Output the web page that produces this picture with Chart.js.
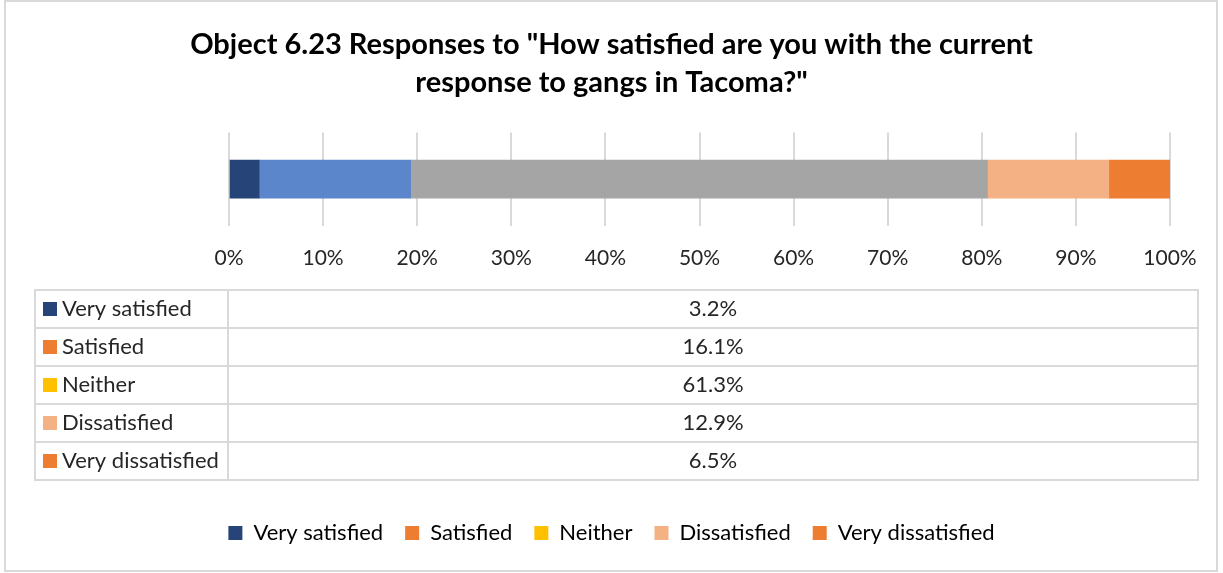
<!DOCTYPE html>
<html>
<head>
<meta charset="utf-8">
<script src="https://cdn.jsdelivr.net/npm/chart.js@4/dist/chart.umd.min.js"></script>
<style>
  html, body { margin: 0; padding: 0; background: #fff; }
  #wrap { width: 1223px; height: 573px; }
</style>
</head>
<body>
<div id="wrap"><canvas id="myChart" width="1223" height="573"></canvas></div>
<script>
// Chart data
const categories = ["Responses"];
const seriesNames = ["Very satisfied", "Satisfied", "Neither", "Dissatisfied", "Very dissatisfied"];
const seriesValues = [3.2, 16.1, 61.3, 12.9, 6.5];
const tickValues = [0, 10, 20, 30, 40, 50, 60, 70, 80, 90, 100];
// bar colours and the (different) legend key colours, as in the original
const barColors = ["#264478", "#5B86CC", "#A5A5A5", "#F4B183", "#ED7D31"];
const legendColors = ["#264478", "#ED7D31", "#FFC000", "#F4B183", "#ED7D31"];

const FONT = 'Lato, "Noto Sans", sans-serif';
const TEXT = "#262626";
const LINE = "#D9D9D9";

// data table + outer frame, drawn under the axis labels
const tablePlugin = {
  id: "dataTable",
  afterDraw(chart) {
    const ctx = chart.ctx;
    const area = chart.chartArea;
    const left = 35, right = 1198, split = area.left - 1;
    const top = area.bottom + 64, rowH = 38;
    ctx.save();
    ctx.strokeStyle = LINE;
    ctx.lineWidth = 2;
    // outer frame of the chart object
    ctx.strokeRect(5, 1, 1212, 570);
    // table grid
    ctx.strokeRect(left, top, right - left, rowH * seriesNames.length);
    for (let i = 1; i < seriesNames.length; i++) {
      ctx.beginPath();
      ctx.moveTo(left, top + rowH * i);
      ctx.lineTo(right, top + rowH * i);
      ctx.stroke();
    }
    ctx.beginPath();
    ctx.moveTo(split, top);
    ctx.lineTo(split, top + rowH * seriesNames.length);
    ctx.stroke();
    // cells
    ctx.font = "22px " + FONT;
    ctx.textBaseline = "middle";
    seriesNames.forEach((name, i) => {
      const cy = top + rowH * i + rowH / 2;
      ctx.fillStyle = legendColors[i];
      ctx.fillRect(43, cy - 7, 14, 14);
      ctx.fillStyle = TEXT;
      ctx.textAlign = "left";
      ctx.fillText(name, 62, cy);
      ctx.textAlign = "center";
      ctx.fillText(seriesValues[i].toFixed(1) + "%", (split + right) / 2, cy);
    });
    ctx.restore();
  }
};

const data = {
  labels: categories,
  datasets: seriesNames.map((name, i) => ({
    label: name,
    data: [seriesValues[i]],
    backgroundColor: barColors[i],
    borderWidth: 0,
    barThickness: 38
  }))
};

const config = {
  type: "bar",
  data: data,
  options: {
    indexAxis: "y",
    responsive: false,
    animation: false,
    layout: { padding: { top: 0, left: 0, right: 0, bottom: 19 } },
    scales: {
      x: {
        stacked: true,
        min: 0,
        max: 100,
        afterBuildTicks(scale) { scale.ticks = tickValues.map(v => ({ value: v })); },
        afterFit(scale) { scale.height = 274; },
        ticks: {
          padding: 20,
          color: TEXT,
          font: { family: FONT, size: 21 },
          callback: v => v + "%"
        },
        grid: { color: LINE, lineWidth: 2, drawTicks: false },
        border: { display: false }
      },
      y: {
        stacked: true,
        afterFit(scale) { scale.width = 229; },
        ticks: { display: false },
        grid: { display: false },
        border: { display: false }
      },
      y2: {
        type: "linear",
        position: "right",
        afterFit(scale) { scale.width = 53; },
        ticks: { display: false },
        grid: { display: false },
        border: { display: false }
      }
    },
    plugins: {
      title: {
        display: true,
        text: ['Object 6.23 Responses to "How satisfied are you with the current', 'response to gangs in Tacoma?"'],
        color: "#000",
        font: { family: FONT, size: 29, weight: "bold", lineHeight: 1.3 },
        padding: { top: 26, bottom: 31 }
      },
      legend: {
        position: "bottom",
        labels: {
          boxWidth: 14,
          boxHeight: 14,
          padding: 22,
          color: TEXT,
          font: { family: FONT, size: 22 },
          generateLabels: () => seriesNames.map((name, i) => ({
            text: name,
            fillStyle: legendColors[i],
            strokeStyle: legendColors[i],
            lineWidth: 0,
            hidden: false,
            datasetIndex: i
          }))
        }
      },
      tooltip: { enabled: false }
    }
  },
  plugins: [tablePlugin]
};

let myChart = new Chart(document.getElementById("myChart").getContext("2d"), config);
</script>
</body>
</html>
